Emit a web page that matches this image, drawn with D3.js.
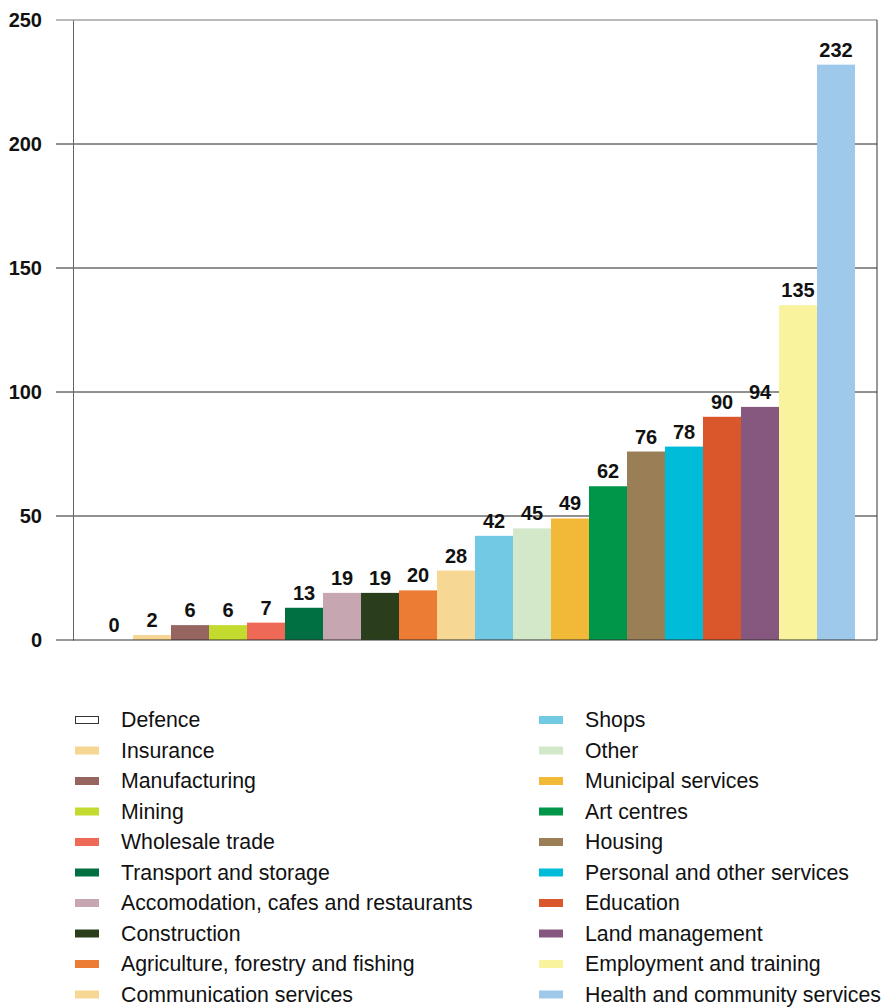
<!DOCTYPE html>
<html><head><meta charset="utf-8">
<script src="https://cdn.jsdelivr.net/npm/d3@7"></script>
<style>body{margin:0;background:#fff}svg{display:block;font-family:"Liberation Sans",Arial,sans-serif}</style>
</head><body>
<svg id="c" width="886" height="1007"></svg>
<script>
const categories = ["Defence","Insurance","Manufacturing","Mining","Wholesale trade","Transport and storage","Accomodation, cafes and restaurants","Construction","Agriculture, forestry and fishing","Communication services","Shops","Other","Municipal services","Art centres","Housing","Personal and other services","Education","Land management","Employment and training","Health and community services"];
const values = [0,2,6,6,7,13,19,19,20,28,42,45,49,62,76,78,90,94,135,232];
const colors = ["#ffffff","#f6d692","#966560","#c3da2f","#ee6a57","#006f41","#c6a6b1","#2b3e1c","#ec7b33","#f6d794","#72c9e4","#d3e8c8","#f2b939","#009649","#9a7f56","#00bcd9","#d9572b","#87587f","#f9f39d","#9fc9ea"];
const yTicks = [0,50,100,150,200,250];

const svg = d3.select("#c");
const x = d3.scaleBand().domain(categories).range([95,855]).padding(0);
const y = d3.scaleLinear().domain([0,250]).range([640,20]);

// gridlines
svg.append("g").selectAll("line").data(yTicks.filter(d=>d>0)).join("line")
  .attr("x1",56).attr("x2",877).attr("y1",d=>y(d)).attr("y2",d=>y(d))
  .attr("stroke",d=>d===250?"#777":"#222").attr("stroke-width",1);
// right border
svg.append("line").attr("x1",877).attr("x2",877).attr("y1",y(250)).attr("y2",y(0)).attr("stroke","#333");
// y axis
const ya = svg.append("g").attr("transform","translate(73,0)")
  .call(d3.axisLeft(y).tickValues(yTicks).tickSize(0).tickPadding(31));
ya.select(".domain").attr("stroke","#666");
ya.selectAll("text").attr("font-size",20).attr("font-weight","bold").attr("fill","#111")
  .attr("font-family","'Liberation Sans',Arial,sans-serif");

// bars
svg.append("g").selectAll("rect").data(categories).join("rect")
  .attr("x",d=>x(d)).attr("width",x.bandwidth())
  .attr("y",(d,i)=>y(values[i])).attr("height",(d,i)=>y(0)-y(values[i]))
  .attr("fill",(d,i)=>colors[i]);
// baseline
svg.append("line").attr("x1",56).attr("x2",877).attr("y1",y(0)).attr("y2",y(0)).attr("stroke","#333");

// value labels
svg.append("g").selectAll("text").data(categories).join("text")
  .attr("x",d=>x(d)+x.bandwidth()/2).attr("y",(d,i)=>y(values[i])-8)
  .attr("text-anchor","middle").attr("font-size",20).attr("font-weight","bold").attr("fill","#111")
  .text((d,i)=>values[i]);

// legend
const lg = svg.append("g");
categories.forEach((c,i)=>{
  const col = i<10?0:1, row = i%10;
  const lx = col===0?75:539, ly = 720 + row*30.5;
  lg.append("rect").attr("x",lx+(i===0?0.5:0)).attr("y",ly-4+(i===0?0.5:0))
    .attr("width",i===0?23:24).attr("height",i===0?7:8)
    .attr("fill",colors[i]).attr("stroke",i===0?"#333":"none");
  lg.append("text").attr("x",lx+46).attr("y",ly).attr("dy","0.35em")
    .attr("font-size",21.3).attr("fill","#111").text(c);
});
</script>
</body></html>
